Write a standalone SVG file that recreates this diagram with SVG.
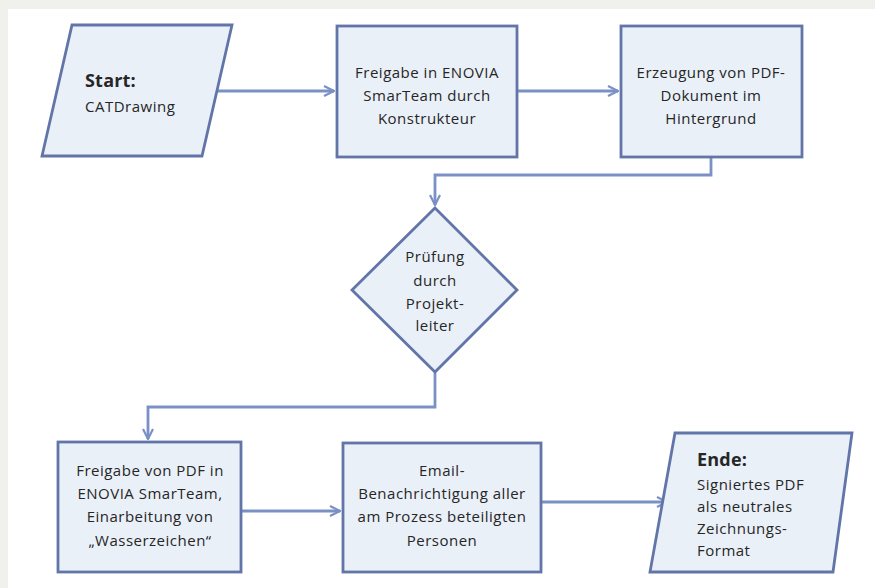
<svg xmlns="http://www.w3.org/2000/svg" width="875" height="588" viewBox="0 0 875 588">
<defs>
<style>
.node{fill:#eaf0f8;stroke:#6275a8;stroke-width:2.8;stroke-linejoin:miter}
.conn{fill:none;stroke:#7b91c6;stroke-width:2.8}
text{font-family:"Open Sans","Noto Sans","Liberation Sans",sans-serif;font-size:15px;fill:#262626;letter-spacing:0.5px}
.c{text-anchor:middle}
.b{font-weight:bold;font-size:18px;letter-spacing:0.2px}
</style>
<marker id="arr" viewBox="0 0 12 12" refX="11" refY="6" markerWidth="12" markerHeight="12" markerUnits="userSpaceOnUse" orient="auto">
<path d="M1,1 L11,6 L1,11" fill="none" stroke="#7b91c6" stroke-width="2.2"/>
</marker>
</defs>
<rect x="0" y="0" width="875" height="588" fill="#f0f0ec"/>
<rect x="8" y="9" width="867" height="579" fill="#ffffff"/>
<g id="connectors">
<path class="conn" d="M203,91 L334,91" marker-end="url(#arr)"/>
<path class="conn" d="M518,91 L618,91" marker-end="url(#arr)"/>
<path class="conn" d="M711,158 L711,175 L435,175 L435,205" marker-end="url(#arr)"/>
<path class="conn" d="M435,373 L435,407 L148,407 L148,439" marker-end="url(#arr)"/>
<path class="conn" d="M242,511 L340,511" marker-end="url(#arr)"/>
<path class="conn" d="M542,502 L667,502" marker-end="url(#arr)"/>
</g>
<g id="start">
<polygon class="node" points="72,25 232,25 202,156 42,156"/>
<text x="85" y="87" class="b">Start:</text>
<text x="85" y="112">CATDrawing</text>
</g>
<g id="freigabe-enovia">
<rect class="node" x="337" y="26" width="180" height="131"/>
<text class="c" x="427" y="78">Freigabe in ENOVIA</text>
<text class="c" x="427" y="101">SmarTeam durch</text>
<text class="c" x="427" y="124">Konstrukteur</text>
</g>
<g id="erzeugung-pdf">
<rect class="node" x="621" y="26" width="181" height="131"/>
<text class="c" x="711" y="78">Erzeugung von PDF-</text>
<text class="c" x="711" y="101">Dokument im</text>
<text class="c" x="711" y="124">Hintergrund</text>
</g>
<g id="pruefung">
<polygon class="node" points="435,208 517,290 435,372 352,290"/>
<text class="c" x="435" y="262">Prüfung</text>
<text class="c" x="435" y="286">durch</text>
<text class="c" x="435" y="309">Projekt-</text>
<text class="c" x="435" y="331">leiter</text>
</g>
<g id="freigabe-pdf">
<rect class="node" x="58" y="442" width="183" height="130"/>
<text class="c" x="150" y="476">Freigabe von PDF in</text>
<text class="c" x="150" y="499">ENOVIA SmarTeam,</text>
<text class="c" x="150" y="522">Einarbeitung von</text>
<text class="c" x="150" y="546">„Wasserzeichen“</text>
</g>
<g id="email">
<rect class="node" x="343" y="443" width="198" height="129"/>
<text class="c" x="442" y="476">Email-</text>
<text class="c" x="442" y="499">Benachrichtigung aller</text>
<text class="c" x="442" y="522">am Prozess beteiligten</text>
<text class="c" x="442" y="546">Personen</text>
</g>
<g id="ende">
<polygon class="node" points="675,433 852,433 833,572 650,572"/>
<text x="697" y="466" class="b">Ende:</text>
<text x="697" y="490">Signiertes PDF</text>
<text x="697" y="512">als neutrales</text>
<text x="697" y="534">Zeichnungs-</text>
<text x="697" y="556">Format</text>
</g>
</svg>
